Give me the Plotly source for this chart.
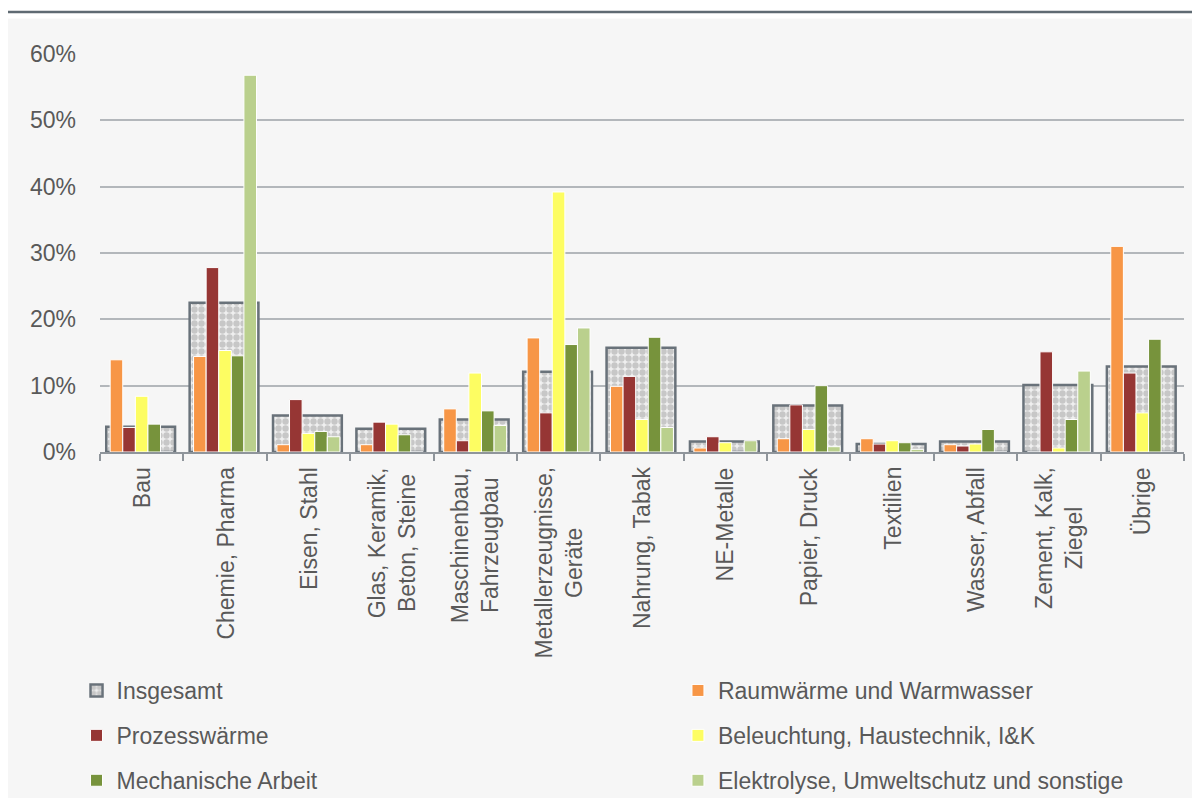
import plotly.graph_objects as go

categories = ["Bau", "Chemie, Pharma", "Eisen, Stahl", "Glas, Keramik, Beton, Steine",
              "Maschinenbau, Fahrzeugbau", "Metallerzeugnisse, Geräte", "Nahrung, Tabak",
              "NE-Metalle", "Papier, Druck", "Textilien", "Wasser, Abfall",
              "Zement, Kalk, Ziegel", "Übrige"]
category_labels = ["Bau", "Chemie, Pharma", "Eisen, Stahl", "Glas, Keramik,<br>Beton, Steine",
                   "Maschinenbau,<br>Fahrzeugbau", "Metallerzeugnisse,<br>Geräte", "Nahrung, Tabak",
                   "NE-Metalle", "Papier, Druck", "Textilien", "Wasser, Abfall",
                   "Zement, Kalk,<br>Ziegel", "Übrige"]

# values in percent
insgesamt   = [3.8, 22.5, 5.5, 3.5, 4.9, 12.1, 15.7, 1.6, 7.0, 1.2, 1.6, 10.1, 12.9]
raumwaerme  = [13.9, 14.4, 1.1, 1.1, 6.5, 17.2, 9.9, 0.6, 2.0, 2.0, 1.1, 0.0, 31.0]
prozess     = [3.7, 27.8, 7.9, 4.5, 1.7, 5.9, 11.4, 2.3, 7.1, 1.2, 0.9, 15.1, 11.9]
beleuchtung = [8.4, 15.3, 2.8, 4.2, 11.9, 39.2, 4.9, 1.4, 3.4, 1.7, 1.2, 0.6, 5.9]
mechanisch  = [4.2, 14.5, 3.1, 2.6, 6.2, 16.2, 17.3, 0.0, 10.0, 1.4, 3.4, 4.9, 17.0]
elektrolyse = [0.0, 56.8, 2.3, 0.0, 4.0, 18.7, 3.7, 1.7, 0.8, 0.4, 0.0, 12.2, 0.0]

series_names = ["Raumwärme und Warmwasser", "Prozesswärme", "Beleuchtung, Haustechnik, I&K",
                "Mechanische Arbeit", "Elektrolyse, Umweltschutz und sonstige"]
series_values = [raumwaerme, prozess, beleuchtung, mechanisch, elektrolyse]
series_colors = ["#f79646", "#963634", "#fdfd62", "#77933c", "#bad08d"]

FONT = "Liberation Sans, Arial, sans-serif"
TXT = "#595959"
FS = 23

fig = go.Figure()

fig.add_trace(go.Bar(
    x=categories, y=insgesamt, name="Insgesamt",
    width=0.825, offset=-0.425,
    marker=dict(color="#efefef",
                line=dict(color="#69727a", width=2.5),
                pattern=dict(shape=".", fgcolor="#a0a0a0", bgcolor="#efefef",
                             size=7, solidity=0.65)),
    legend="legend", legendgroup="g0",
))

# legend columns: left column = legend, right column = legend2
legend_cols = ["legend2", "legend", "legend2", "legend", "legend2"]
slot = 0.151
for i, (nm, vals, col) in enumerate(zip(series_names, series_values, series_colors)):
    fig.add_trace(go.Bar(
        x=categories, y=vals, name=nm,
        width=slot, offset=-0.378 + i * slot,
        marker=dict(color=col, line=dict(color="white", width=1)),
        legend=legend_cols[i], legendgroup="g%d" % (i + 1),
    ))

# helpers: screen pixel -> paper coordinates
def px2py(ypx):
    return (452 - ypx) / 398.0

def px2px(xpx):
    return (xpx - 99.5) / 1085.0

annotations = []
for c, lab in zip(categories, category_labels):
    annotations.append(dict(
        x=c, xref="x", y=px2py(465), yref="paper", text=lab, textangle=-90,
        xanchor="center", yanchor="top", showarrow=False, align="center",
        font=dict(family=FONT, size=FS, color=TXT)))

leg_common = dict(orientation="v", xanchor="left", yanchor="top",
                  bgcolor="rgba(0,0,0,0)", font=dict(family=FONT, size=FS, color=TXT),
                  itemclick=False, tracegroupgap=12, traceorder="grouped")

shapes = [
    dict(type="rect", xref="paper", yref="paper", x0=-0.2, x1=1.2,
         y0=px2py(18.5), y1=1.3, fillcolor="white", line=dict(width=0), layer="above"),
    dict(type="line", xref="paper", yref="paper", x0=-0.2, x1=1.2,
         y0=px2py(12), y1=px2py(12), line=dict(color="#5f6a72", width=2.5)),
]

fig.update_layout(
    width=1200, height=830,
    margin=dict(l=91.5, r=23.5, t=46, b=386, pad=0),
    paper_bgcolor="#f6f6f6", plot_bgcolor="#f6f6f6",
    barmode="overlay",
    showlegend=True,
    annotations=annotations,
    shapes=shapes,
    font=dict(family=FONT, size=FS, color=TXT),
    legend=dict(leg_common, x=px2px(76), y=px2py(669)),
    legend2=dict(leg_common, x=px2px(678), y=px2py(669)),
)

fig.update_xaxes(
    type="category", showticklabels=False,
    showline=True, linecolor="#8f959b", linewidth=1.5,
    ticks="outside", tickson="boundaries", ticklen=7, tickcolor="#8f959b", tickwidth=1.5,
    showgrid=False, fixedrange=True,
)
fig.update_yaxes(
    range=[0, 60], dtick=10, ticksuffix="%",
    showgrid=True, gridcolor="#b3b7bb", gridwidth=1.5,
    zeroline=False, showline=False,
    ticks="", ticklabelstandoff=23,
    tickfont=dict(family=FONT, size=FS, color=TXT),
    fixedrange=True,
)

fig.write_html("out.html")
